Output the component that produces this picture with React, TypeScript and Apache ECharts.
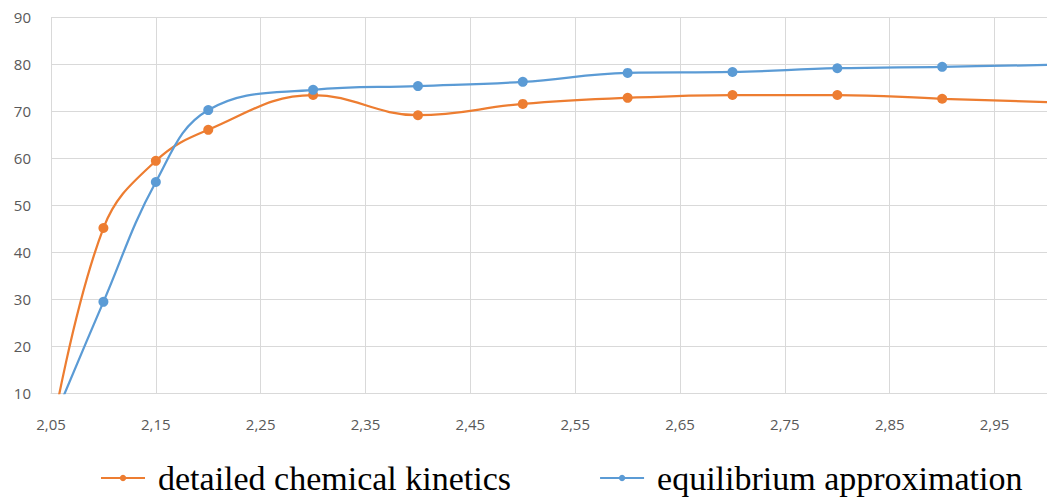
import React, { useEffect, useRef } from "react";
import * as echarts from "echarts";

const xValues = [2.05, 2.1, 2.15, 2.2, 2.3, 2.4, 2.5, 2.6, 2.7, 2.8, 2.9, 3.0];
const kinetics = [0.5, 45.1, 59.4, 66.0, 73.4, 69.1, 71.5, 72.8, 73.4, 73.4, 72.6, 71.9];
const equilibrium = [3.0, 29.4, 54.9, 70.2, 74.5, 75.3, 76.2, 78.1, 78.3, 79.1, 79.4, 79.8];
const seriesNames = ["detailed chemical kinetics", "equilibrium approximation"];
const yTicks = { min: 10, max: 90, step: 10 };
const xTicks = { min: 2.05, max: 3.0, step: 0.1 };

const ORANGE = "#ED7D31";
const BLUE = "#5B9BD5";

function buildData(vals: number[]) {
  return xValues.map((x, i) => {
    const edge = i === 0 || i === xValues.length - 1;
    return edge ? { value: [x, vals[i]], symbol: "none" } : { value: [x, vals[i]] };
  });
}

export default function App() {
  const ref = useRef<HTMLDivElement>(null);
  useEffect(() => {
    if (!ref.current) return;
    const chart = echarts.init(ref.current, null, { renderer: "svg" });
    const axisFont = { color: "#595959", fontSize: 15, fontFamily: "Open Sans" };
    chart.setOption({
      animation: false,
      backgroundColor: "#ffffff",
      grid: { left: 51, top: 17, width: 1000, bottom: 104, containLabel: false },
      xAxis: {
        type: "value",
        min: xTicks.min,
        max: xTicks.max,
        interval: xTicks.step,
        axisLine: { show: true, lineStyle: { color: "#D9D9D9", width: 1 } },
        axisTick: { show: false },
        splitLine: { show: true, lineStyle: { color: "#D9D9D9", width: 1 } },
        axisLabel: {
          ...axisFont,
          margin: 23,
          showMaxLabel: false,
          formatter: (v: number) => {
            const c = Math.round(v * 100);
            if (c % 10 !== 5) return "";
            return (c / 100).toFixed(2).replace(".", ",");
          },
        },
      },
      yAxis: {
        type: "value",
        min: yTicks.min,
        max: yTicks.max,
        interval: yTicks.step,
        axisLine: { show: false },
        axisTick: { show: false },
        splitLine: { show: true, lineStyle: { color: "#D9D9D9", width: 1 } },
        axisLabel: { ...axisFont, margin: 20 },
      },
      legend: {
        left: 95,
        top: 456,
        itemWidth: 44,
        itemHeight: 8,
        itemGap: 88,
        textStyle: {
          fontFamily: "Liberation Serif",
          fontSize: 34,
          color: "#000000",
          padding: [0, 0, 0, 8],
        },
        data: seriesNames,
      },
      series: [
        {
          name: seriesNames[0],
          type: "line",
          smooth: 0.4,
          clip: true,
          symbol: "circle",
          symbolSize: 10,
          itemStyle: { color: ORANGE },
          lineStyle: { color: ORANGE, width: 2.25 },
          data: buildData(kinetics),
        },
        {
          name: seriesNames[1],
          type: "line",
          smooth: 0.4,
          clip: true,
          symbol: "circle",
          symbolSize: 10,
          itemStyle: { color: BLUE },
          lineStyle: { color: BLUE, width: 2.25 },
          data: buildData(equilibrium),
        },
      ],
    });
    return () => chart.dispose();
  }, []);
  return (
    <div
      ref={ref}
      style={{ position: "absolute", left: 0, top: 0, width: 1047, height: 497 }}
    />
  );
}
